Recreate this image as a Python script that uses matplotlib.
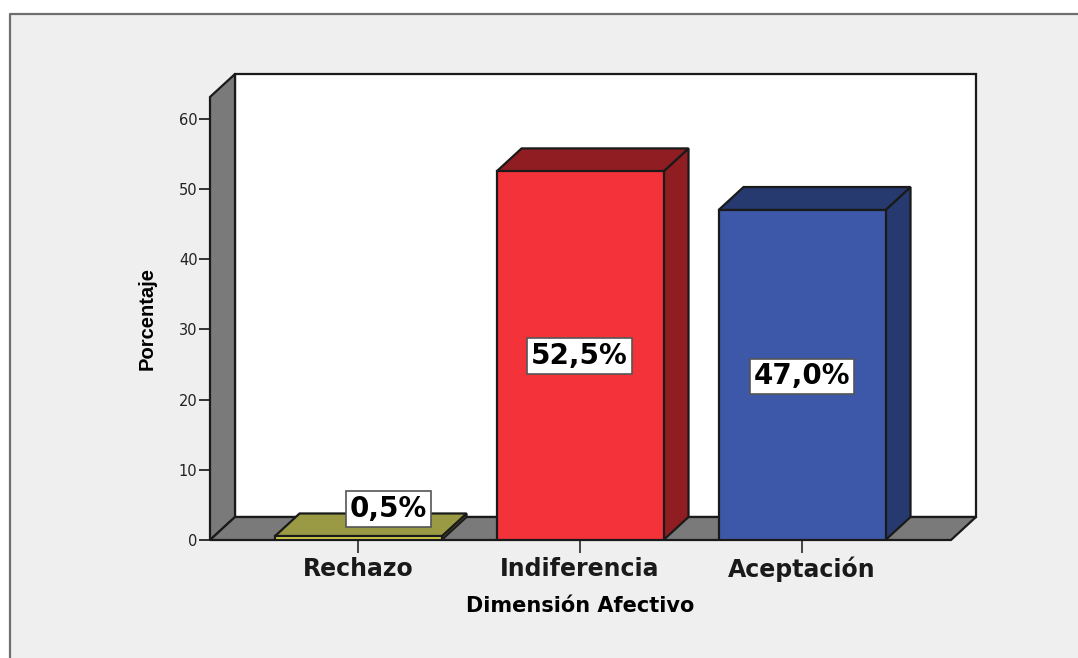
import matplotlib
matplotlib.use("Agg")

import matplotlib.pyplot as plt
from matplotlib.lines import Line2D
from matplotlib.patches import Rectangle

categories = ["Rechazo", "Indiferencia", "Aceptación"]
values = [0.5, 52.5, 47.0]
labels = ["0,5%", "52,5%", "47,0%"]
yticks = [0, 10, 20, 30, 40, 50, 60]

front_colors = ["#d8d44c", "#f43239", "#3e58a9"]
top_colors = ["#9a9a44", "#8f1d22", "#263a70"]
side_colors = ["#9a9a44", "#8f1d22", "#263a70"]
wall_grey = "#7a7a7a"
edge = "#1a1a1a"

W, H = 1078, 658
fig = plt.figure(figsize=(W / 100, H / 100), dpi=100, facecolor="white")

# grey panel with the dark line on top and left only
fig.add_artist(Rectangle((10 / W, 0), 1, 1 - 14 / H, transform=fig.transFigure,
                         facecolor="#efefef", edgecolor="none", zorder=-2))
fig.add_artist(Line2D([10 / W, 10 / W, 1], [0, 1 - 14 / H, 1 - 14 / H],
                      transform=fig.transFigure, color="#6e6e6e", lw=1.6, zorder=-1))

# axes = front plane of the fake 3d box
left, right, bottom, top = 210, 951, 540, 97
ax = fig.add_axes([left / W, 1 - bottom / H, (right - left) / W, (bottom - top) / H])
ax.patch.set_visible(False)
x_min, x_max = -0.667, 2.671
y_max = 63.1
ax.set_xlim(x_min, x_max)
ax.set_ylim(0, y_max)
for s in ax.spines.values():
    s.set_visible(False)

dx = 25 / 222
dy = 23 / 7.017
bar_w = 0.752


def face(xs, ys, color, z):
    ax.fill(xs, ys, facecolor=color, edgecolor=edge, lw=1.6, clip_on=False,
            zorder=z, joinstyle="miter")


# back wall, left wall, floor
face([x_min + dx, x_max + dx, x_max + dx, x_min + dx],
     [dy, dy, y_max + dy, y_max + dy], "white", 1)
face([x_min, x_min + dx, x_min + dx, x_min],
     [0, dy, y_max + dy, y_max], wall_grey, 2)
face([x_min, x_max, x_max + dx, x_min + dx],
     [0, 0, dy, dy], wall_grey, 2)

for i, v in enumerate(values):
    x0, x1 = i - bar_w / 2, i + bar_w / 2
    face([x1, x1 + dx, x1 + dx, x1], [0, dy, v + dy, v], side_colors[i], 3)
    face([x0, x1, x1 + dx, x0 + dx], [v, v, v + dy, v + dy], top_colors[i], 3)
    ax.bar(i, v, width=bar_w, color=front_colors[i], edgecolor=edge, lw=1.6, zorder=4)

# value boxes
label_pos = [
    (0 + 0.135, 4.4),
    (1 - 0.002, 26.2),
    (2 + 0.0, 23.3),
]
for (x, y), t in zip(label_pos, labels):
    ax.text(x, y, t, ha="center", va="center", fontsize=20, fontweight="bold",
            family="DejaVu Sans", color="black", zorder=6,
            bbox=dict(boxstyle="square,pad=0.14", facecolor="white", edgecolor="#555555", lw=1.2))

ax.set_yticks(yticks)
ax.set_xticks(range(len(categories)))
ax.set_xticklabels(categories, fontsize=17, fontweight="bold", color="#1a1a1a",
                   family="DejaVu Sans")
ax.tick_params(axis="y", length=8, width=1.4, color="#333333", labelsize=10.5,
               labelcolor="#222222", pad=1)
ax.tick_params(axis="x", length=9, width=1.4, color="#444444", pad=3)
ax.set_xlabel("Dimensión Afectivo", fontsize=15, fontweight="bold", family="DejaVu Sans",
              labelpad=10)
ax.set_ylabel("Porcentaje", fontsize=14.5, fontweight="bold", family="Liberation Sans",
              labelpad=16)

fig.savefig("out.png", dpi=100)
